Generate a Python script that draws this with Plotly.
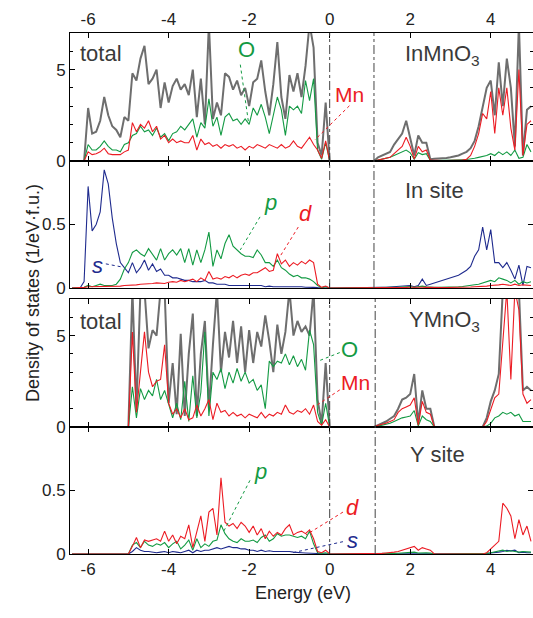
import numpy as np
import plotly.graph_objects as go

# Energy grid (eV), 0.1 eV sampling from -6.4 to 5.0
energy = np.round(np.arange(-6.4, 5.0001, 0.1), 2)

# ---------------- InMnO3: total / O / Mn (1/eV f.u.) ----------------
inmno3_total = [
    0, 0, 0, 0, 2.9, 1.5, 1.6, 2.2, 3.5, 2.5,          # -6.4 .. -5.5
    1.9, 1.7, 1.3, 2.4, 2.2, 4.8, 4.4, 5.6, 6.3, 4.2,  # -5.4 .. -4.5
    4.5, 5.0, 2.9, 4.3, 3.2, 4.1, 4.5, 3.9, 4.2, 3.6,  # -4.4 .. -3.5
    5.0, 2.4, 4.5, 2.0, 7.5, 2.3, 3.2, 2.5, 4.8, 4.6,  # -3.4 .. -2.5
    3.9, 4.4, 3.6, 4.0, 3.0, 4.3, 4.5, 5.5, 3.8, 2.5,  # -2.4 .. -1.5
    4.2, 6.5, 3.5, 2.3, 4.7, 3.8, 4.8, 3.5, 5.2, 7.5,  # -1.4 .. -0.5
    6.2, 1.0, 0.3, 3.2, 0, 0, 0, 0, 0, 0,              # -0.4 .. 0.5
    0, 0, 0, 0, 0, 0, 0.2, 0.3, 0.4, 0.5,              # 0.6 .. 1.5
    0.9, 1.2, 1.5, 2.2, 1.3, 0.3, 1.4, 1.0, 1.0, 0.1,  # 1.6 .. 2.5
    0.12, 0.12, 0.14, 0.16, 0.2, 0.25, 0.3, 0.4, 0.5, 0.7,  # 2.6 .. 3.5
    1.1, 1.9, 2.9, 4.0, 4.4, 2.5, 5.4, 3.0, 5.6, 4.0,  # 3.6 .. 4.5
    0.8, 7.5, 0.3, 2.8, 3.0,                           # 4.6 .. 5.0
]
inmno3_O = [
    0, 0, 0, 0, 0.9, 0.6, 0.6, 0.8, 1.1, 0.8,
    0.6, 0.6, 0.5, 0.9, 1.0, 1.4, 1.5, 1.9, 1.6, 1.7,
    1.4, 1.8, 1.3, 1.5, 1.1, 1.5, 1.6, 1.9, 1.7, 2.0,
    2.3, 1.3, 2.1, 1.8, 3.4, 1.9, 2.4, 1.4, 2.4, 2.6,
    2.2, 2.3, 2.0, 2.3, 2.0, 2.9, 2.5, 3.1, 2.4, 1.5,
    2.5, 3.5, 2.8, 1.4, 3.0, 2.8, 3.0, 2.6, 4.4, 3.3,
    4.5, 0.6, 0.1, 1.0, 0, 0, 0, 0, 0, 0,
    0, 0, 0, 0, 0, 0, 0.05, 0.1, 0.15, 0.2,
    0.3, 0.4, 0.5, 0.6, 0.45, 0.1, 0.45, 0.35, 0.4, 0.03,
    0.03, 0.03, 0.04, 0.04, 0.05, 0.05, 0.06, 0.07, 0.08, 0.1,
    0.15, 0.2, 0.25, 0.3, 0.4, 0.3, 0.5, 0.35, 0.5, 0.3,
    0.6, 0.15, 0.2, 0.9, 0.5,
]
inmno3_Mn = [
    0, 0, 0, 0, 0.5, 0.35, 0.4, 0.5, 0.7, 0.4,
    0.35, 0.35, 0.35, 0.5, 0.6, 2.1, 1.6, 2.0, 1.8, 2.2,
    1.6, 1.9, 1.2, 1.4, 1.0, 1.2, 1.0, 1.1, 1.0, 1.0,
    1.4, 0.6, 1.2, 0.9, 1.0, 0.8, 0.9, 0.7, 0.9, 0.8,
    0.9, 0.7, 0.8, 0.6, 0.8, 0.7, 0.9, 0.8, 0.7, 0.9,
    0.8, 0.7, 0.9, 0.7, 0.8, 1.1, 0.8, 0.7, 1.0, 1.3,
    0.9, 0.6, 0.15, 1.1, 0, 0, 0, 0, 0, 0,
    0, 0, 0, 0, 0, 0, 0.05, 0.1, 0.15, 0.2,
    0.4, 0.6, 0.8, 1.3, 0.8, 0.1, 0.8, 0.5, 0.6, 0.05,
    0.03, 0.03, 0.03, 0.03, 0.03, 0.04, 0.04, 0.05, 0.1, 0.3,
    0.8, 1.5, 2.6, 2.3, 3.8, 1.5, 4.0, 2.5, 4.0, 1.8,
    0.6, 5.0, 0.3, 2.0, 2.2,
]

# ---------------- In site: s / p / d ----------------
in_s = [
    0, 0, 0, 0.05, 0.8, 0.45, 0.5, 0.6, 0.93, 0.82,
    0.55, 0.35, 0.2, 0.16, 0.12, 0.2, 0.12, 0.16, 0.22, 0.14,
    0.19, 0.13, 0.15, 0.1, 0.1, 0.08, 0.08, 0.07, 0.06, 0.06,
    0.05, 0.05, 0.05, 0.06, 0.04, 0.04, 0.03, 0.03, 0.03, 0.02,
    0.02, 0.02, 0.02, 0.015, 0.02, 0.015, 0.015, 0.02, 0.01, 0.015,
    0.01, 0.01, 0.012, 0.01, 0.01, 0.01, 0.008, 0.01, 0.006, 0.008,
    0.005, 0.003, 0.002, 0.01, 0, 0, 0, 0, 0, 0,
    0, 0, 0, 0, 0, 0, 0.003, 0.005, 0.006, 0.008,
    0.01, 0.012, 0.015, 0.02, 0.02, 0.01, 0.02, 0.07, 0.02, 0.03,
    0.04, 0.05, 0.06, 0.07, 0.08, 0.09, 0.1, 0.12, 0.14, 0.17,
    0.25, 0.3, 0.48, 0.3, 0.46, 0.2, 0.2, 0.16, 0.2, 0.14,
    0.07, 0.18, 0.02, 0.17, 0.16,
]
in_p = [
    0, 0, 0, 0.005, 0.02, 0.01, 0.02, 0.03, 0.02, 0.02,
    0.02, 0.03, 0.07, 0.15, 0.2, 0.28, 0.3, 0.27, 0.25, 0.31,
    0.26, 0.22, 0.31, 0.22, 0.27, 0.3, 0.26, 0.31, 0.2, 0.31,
    0.18, 0.3, 0.2, 0.3, 0.44, 0.17, 0.3, 0.23, 0.35, 0.42,
    0.33, 0.3, 0.27, 0.25, 0.25, 0.24, 0.3, 0.26, 0.2, 0.2,
    0.17, 0.22, 0.16, 0.14, 0.11, 0.09, 0.1, 0.08, 0.08, 0.07,
    0.05, 0.02, 0.003, 0.01, 0, 0, 0, 0, 0, 0,
    0, 0, 0, 0, 0, 0, 0.002, 0.003, 0.004, 0.005,
    0.005, 0.006, 0.008, 0.01, 0.012, 0.005, 0.01, 0.015, 0.01, 0.005,
    0.005, 0.005, 0.005, 0.006, 0.007, 0.008, 0.01, 0.012, 0.015, 0.02,
    0.025, 0.03, 0.04, 0.05, 0.06, 0.05, 0.08, 0.07, 0.06, 0.04,
    0.06, 0.03, 0.05, 0.04, 0.05,
]
in_d = [
    0, 0, 0, 0.005, 0.01, 0.01, 0.01, 0.01, 0.01, 0.01,
    0.01, 0.01, 0.015, 0.02, 0.02, 0.02, 0.025, 0.03, 0.03, 0.03,
    0.035, 0.04, 0.04, 0.035, 0.045, 0.05, 0.045, 0.06, 0.05, 0.06,
    0.07, 0.05, 0.08, 0.06, 0.13, 0.07, 0.08, 0.07, 0.09, 0.08,
    0.1, 0.08, 0.1, 0.11, 0.1, 0.12, 0.12, 0.14, 0.16, 0.13,
    0.14, 0.27, 0.19, 0.22, 0.17, 0.2, 0.18, 0.21, 0.19, 0.22,
    0.2, 0.03, 0.005, 0.015, 0, 0, 0, 0, 0, 0,
    0, 0, 0, 0, 0, 0, 0.002, 0.002, 0.003, 0.003,
    0.003, 0.004, 0.005, 0.005, 0.006, 0.004, 0.005, 0.006, 0.005, 0.003,
    0.003, 0.003, 0.003, 0.004, 0.004, 0.005, 0.005, 0.006, 0.007, 0.008,
    0.01, 0.01, 0.012, 0.015, 0.02, 0.02, 0.025, 0.03, 0.025, 0.02,
    0.03, 0.02, 0.025, 0.02, 0.02,
]

# ---------------- YMnO3: total / O / Mn ----------------
ymno3_total = [
    0, 0, 0, 0, 0, 0, 0, 0, 0, 0,
    0, 0, 0, 0, 0, 7.5, 1.0, 7.5, 7.5, 4.3,
    5.3, 5.0, 7.5, 7.5, 1.3, 3.5, 0.7, 5.1, 0.6, 4.0,
    6.2, 0.6, 4.0, 5.8, 1.0, 4.5, 7.5, 3.0, 5.2, 3.8,
    5.8, 3.5, 5.5, 3.0, 5.3, 3.5, 5.2, 4.4, 6.1, 4.7,
    3.0, 5.6, 4.0, 5.2, 7.5, 5.0, 5.8, 5.2, 5.5, 5.0,
    7.5, 1.5, 0.2, 3.5, 0, 0, 0, 0, 0, 0,
    0, 0, 0, 0, 0, 0, 0.1, 0.2, 0.3, 0.45,
    0.6, 1.0, 1.5, 1.6, 1.8, 2.9, 0.2, 2.0, 1.0, 1.0,
    0, 0, 0, 0, 0, 0, 0, 0, 0, 0,
    0, 0, 0, 0.5, 1.4, 2.0, 2.9, 7.5, 7.5, 7.5,
    7.5, 7.5, 2.0, 2.2, 2.0,
]
ymno3_O = [
    0, 0, 0, 0, 0, 0, 0, 0, 0, 0,
    0, 0, 0, 0, 0, 2.2, 0.5, 2.1, 1.5, 2.0,
    1.7, 2.6, 1.5, 2.0, 1.2, 0.5, 1.3, 0.4, 2.5, 0.3,
    2.8, 0.5, 1.9, 5.2, 0.6, 3.0, 2.6, 3.2, 2.1, 3.0,
    2.4, 3.2, 2.5, 3.0, 2.4, 2.6, 2.0, 2.3, 1.0, 3.6,
    3.3, 3.6, 3.5, 4.0, 3.4, 3.9, 3.3, 3.7, 3.1, 5.3,
    4.5, 0.8, 0.1, 1.3, 0, 0, 0, 0, 0, 0,
    0, 0, 0, 0, 0, 0, 0.05, 0.1, 0.15, 0.2,
    0.3, 0.4, 0.5, 0.55, 0.6, 0.9, 0.05, 0.6, 0.4, 0.3,
    0, 0, 0, 0, 0, 0, 0, 0, 0, 0,
    0, 0, 0, 0.05, 0.2, 0.5, 0.6, 0.8, 0.7, 0.8,
    0.6, 0.7, 0.3, 0.3, 0.3,
]
ymno3_Mn = [
    0, 0, 0, 0, 0, 0, 0, 0, 0, 0,
    0, 0, 0, 0, 0, 5.2, 0.8, 3.0, 5.2, 3.0,
    2.2, 2.5, 2.6, 4.5, 1.3, 0.7, 1.0, 0.5, 1.0, 0.4,
    0.5, 1.2, 0.6, 1.0, 1.5, 0.4, 1.3, 0.8, 0.9, 0.6,
    0.8, 0.6, 0.7, 0.5, 0.7, 0.6, 0.5, 0.8, 0.5, 0.7,
    0.6, 0.8, 0.7, 1.2, 0.8, 0.7, 0.9, 0.8, 1.0, 0.7,
    1.2, 0.3, 0.1, 0.4, 0, 0, 0, 0, 0, 0,
    0, 0, 0, 0, 0, 0, 0.1, 0.15, 0.2, 0.3,
    0.4, 0.8, 1.0, 1.1, 1.2, 1.6, 0.1, 1.4, 0.8, 0.7,
    0, 0, 0, 0, 0, 0, 0, 0, 0, 0,
    0, 0, 0, 0.3, 1.0, 1.6, 1.8, 4.5, 7.5, 2.6,
    7.5, 6.4, 1.8, 1.3, 1.5,
]

# ---------------- Y site: s / p / d ----------------
y_s = [
    0, 0, 0, 0, 0, 0, 0, 0, 0, 0,
    0, 0, 0, 0, 0, 0.02, 0.05, 0.03, 0.02, 0.02,
    0.015, 0.01, 0.015, 0.02, 0.01, 0.02, 0.015, 0.01, 0.02, 0.03,
    0.01, 0.03, 0.02, 0.03, 0.03, 0.04, 0.05, 0.04, 0.05, 0.06,
    0.05, 0.05, 0.04, 0.04, 0.03, 0.03, 0.02, 0.03, 0.02, 0.025,
    0.02, 0.02, 0.025, 0.02, 0.02, 0.015, 0.01, 0.01, 0.008, 0.006,
    0.004, 0.002, 0, 0, 0, 0, 0, 0, 0, 0,
    0, 0, 0, 0, 0, 0, 0, 0, 0, 0,
    0, 0, 0.002, 0.003, 0.004, 0.005, 0.003, 0.004, 0.003, 0.002,
    0, 0, 0, 0, 0, 0, 0, 0, 0, 0,
    0, 0, 0, 0.003, 0.008, 0.01, 0.015, 0.02, 0.03, 0.025,
    0.03, 0.01, 0.015, 0.01, 0.01,
]
y_p = [
    0, 0, 0, 0, 0, 0, 0, 0, 0, 0,
    0, 0, 0, 0, 0, 0.07, 0.09, 0.05, 0.1, 0.07,
    0.06, 0.08, 0.07, 0.09, 0.05, 0.08, 0.1, 0.04, 0.07, 0.11,
    0.03, 0.12, 0.05, 0.08, 0.06, 0.1, 0.11, 0.23, 0.16, 0.12,
    0.1, 0.09, 0.12, 0.1, 0.1, 0.11, 0.09, 0.13, 0.15, 0.1,
    0.12, 0.16, 0.14, 0.15, 0.15, 0.14, 0.13, 0.14, 0.12, 0.18,
    0.08, 0.01, 0.005, 0.01, 0, 0, 0, 0, 0, 0,
    0, 0, 0, 0, 0, 0, 0.001, 0.002, 0.003, 0.004,
    0.005, 0.006, 0.008, 0.01, 0.012, 0.015, 0.008, 0.012, 0.01, 0.008,
    0, 0, 0, 0, 0, 0, 0, 0, 0, 0,
    0, 0, 0, 0.005, 0.01, 0.015, 0.02, 0.03, 0.02, 0.025,
    0.02, 0.015, 0.02, 0.015, 0.015,
]
y_d = [
    0, 0, 0, 0, 0, 0, 0, 0, 0, 0,
    0, 0, 0, 0, 0, 0.06, 0.13, 0.05, 0.11, 0.1,
    0.11, 0.12, 0.1, 0.18, 0.1, 0.15, 0.08, 0.14, 0.12, 0.23,
    0.05, 0.18, 0.3, 0.1, 0.33, 0.36, 0.15, 0.6, 0.25, 0.22,
    0.24, 0.2, 0.25, 0.22, 0.17, 0.22, 0.15, 0.2, 0.12, 0.18,
    0.14, 0.17, 0.15, 0.2, 0.23, 0.15, 0.17, 0.18, 0.16, 0.19,
    0.12, 0.02, 0.01, 0.03, 0, 0, 0, 0, 0, 0,
    0, 0, 0, 0, 0, 0, 0.003, 0.005, 0.008, 0.01,
    0.015, 0.02, 0.03, 0.04, 0.05, 0.06, 0.03, 0.05, 0.04, 0.03,
    0, 0, 0, 0, 0, 0, 0, 0, 0, 0,
    0, 0, 0, 0.01, 0.04, 0.07, 0.1, 0.4, 0.36, 0.3,
    0.12, 0.27, 0.15, 0.22, 0.1,
]

for name, arr in [("inmno3_total", inmno3_total), ("inmno3_O", inmno3_O), ("inmno3_Mn", inmno3_Mn),
                  ("in_s", in_s), ("in_p", in_p), ("in_d", in_d),
                  ("ymno3_total", ymno3_total), ("ymno3_O", ymno3_O), ("ymno3_Mn", ymno3_Mn),
                  ("y_s", y_s), ("y_p", y_p), ("y_d", y_d)]:
    assert len(arr) == len(energy), (name, len(arr))

# Gap edges (conduction band onset) for the two compounds
gap_inmno3 = 1.1
gap_ymno3 = 1.13

x_ticks = [-6, -4, -2, 0, 2, 4]
x_ticktext = ["-6", "-4", "-2", "0", "2", "4"]

GREY = "#6e6e6e"
GREEN = "#139a43"
RED = "#ec1c24"
BLUE = "#1f2b8e"
TXT = "#3a3a3a"
FONT = "Liberation Sans"

W, H = 533, 618
def fy(p):
    return 1 - p / H

dom_x = [70 / W, 1.0]
dom = {
    1: [fy(161), fy(33)],
    2: [fy(288), fy(161)],
    3: [fy(427), fy(299)],
    4: [fy(554), fy(427)],
}

fig = go.Figure()

def add(ax, y, color, width):
    xa = "x" if ax == 1 else f"x{ax}"
    ya = "y" if ax == 1 else f"y{ax}"
    fig.add_trace(go.Scatter(x=energy, y=y, mode="lines", xaxis=xa, yaxis=ya,
                             line=dict(color=color, width=width), showlegend=False,
                             hoverinfo="skip"))

add(1, inmno3_total, GREY, 2.0)
add(1, inmno3_O, GREEN, 1.1)
add(1, inmno3_Mn, RED, 1.1)
add(2, in_s, BLUE, 1.1)
add(2, in_p, GREEN, 1.1)
add(2, in_d, RED, 1.1)
add(3, ymno3_total, GREY, 2.0)
add(3, ymno3_O, GREEN, 1.1)
add(3, ymno3_Mn, RED, 1.1)
add(4, y_s, BLUE, 1.1)
add(4, y_p, GREEN, 1.1)
add(4, y_d, RED, 1.1)

common = dict(showline=True, linecolor="black", linewidth=1, mirror="allticks",
              ticks="inside", ticklen=5, tickcolor="black", tickwidth=1,
              zeroline=False, showgrid=False, automargin=False,
              tickfont=dict(family=FONT, size=17, color="#222"))

layout = dict(width=W, height=H, margin=dict(l=0, r=0, t=0, b=0),
              paper_bgcolor="white", plot_bgcolor="white", showlegend=False,
              font=dict(family=FONT))

for i in range(1, 5):
    xk = "xaxis" if i == 1 else f"xaxis{i}"
    yk = "yaxis" if i == 1 else f"yaxis{i}"
    ya = "y" if i == 1 else f"y{i}"
    xa = "x" if i == 1 else f"x{i}"
    xd = dict(common, domain=dom_x, anchor=ya, range=[-6.45, 5.05],
              tickvals=x_ticks, ticktext=x_ticktext,
              showticklabels=(i in (1, 4)), side=("top" if i == 1 else "bottom"))
    if i != 1:
        xd["matches"] = "x"
    layout[xk] = xd
    if i in (1, 3):
        yd = dict(common, domain=dom[i], anchor=xa, range=[0, 7],
                  tickvals=[0, 5], ticktext=["0", "5"],
                  minor=dict(tickvals=[1, 2, 3, 4, 6], ticks="inside", ticklen=3,
                             tickcolor="black", showgrid=False))
    else:
        yd = dict(common, domain=dom[i], anchor=xa, range=[0, 1.0],
                  tickvals=[0, 0.5], ticktext=["0", "0.5"])
    layout[yk] = yd

fig.update_layout(**layout)

# Vertical dash-dot lines at E=0 and at the gap edge
shapes = []
for xv, (y0, y1) in [(0, (dom[2][0], dom[1][1])), (gap_inmno3, (dom[2][0], dom[1][1])),
                     (0, (dom[4][0], dom[3][1])), (gap_ymno3, (dom[4][0], dom[3][1]))]:
    shapes.append(dict(type="line", xref="x", yref="paper", x0=xv, x1=xv, y0=y0, y1=y1,
                       line=dict(color="#444", width=1, dash="dashdot")))

# Leader lines (axis, x0, y0, x1, y1, color)
leaders = [
    (1, -2.22, 5.27, -2.02, 2.16, GREEN),
    (1, 0.49, 3.02, -0.37, 1.15, RED),
    (2, -1.73, 0.56, -2.22, 0.30, GREEN),
    (2, -0.78, 0.48, -1.23, 0.25, RED),
    (2, -5.56, 0.19, -5.15, 0.165, BLUE),
    (3, 0.25, 4.07, -0.29, 3.6, GREEN),
    (3, 0.25, 2.03, -0.37, 1.12, RED),
    (4, -1.98, 0.58, -2.63, 0.18, GREEN),
    (4, 0.33, 0.33, -0.59, 0.15, RED),
    (4, 0.33, 0.097, -0.95, 0.008, BLUE),
]
for ax, x0, y0, x1, y1, c in leaders:
    xa = "x" if ax == 1 else f"x{ax}"
    ya = "y" if ax == 1 else f"y{ax}"
    shapes.append(dict(type="line", xref=xa, yref=ya, x0=x0, y0=y0, x1=x1, y1=y1,
                       line=dict(color=c, width=1, dash="dot")))
fig.update_layout(shapes=shapes)

# Labels (axis, x, y, text, color, size)
labels = [
    (1, -5.67, 5.88, "total", TXT, 22),
    (1, 2.8, 5.77, "InMnO<sub>3</sub>", TXT, 22),
    (1, -2.06, 6.1, "O", GREEN, 22),
    (1, 0.5, 3.63, "Mn", RED, 21),
    (2, 2.6, 0.77, "In site", TXT, 22),
    (2, -1.47, 0.67, "<i>p</i>", GREEN, 22),
    (2, -0.61, 0.59, "<i>d</i>", RED, 22),
    (2, -5.77, 0.18, "<i>s</i>", BLUE, 22),
    (3, -5.67, 5.77, "total", TXT, 22),
    (3, 2.85, 5.77, "YMnO<sub>3</sub>", TXT, 22),
    (3, 0.5, 4.23, "O", GREEN, 22),
    (3, 0.65, 2.42, "Mn", RED, 21),
    (4, 2.67, 0.78, "Y site", TXT, 22),
    (4, -1.72, 0.65, "<i>p</i>", GREEN, 22),
    (4, 0.57, 0.37, "<i>d</i>", RED, 22),
    (4, 0.57, 0.11, "<i>s</i>", BLUE, 22),
]
ann = []
for ax, x, y, t, c, s in labels:
    xa = "x" if ax == 1 else f"x{ax}"
    ya = "y" if ax == 1 else f"y{ax}"
    ann.append(dict(xref=xa, yref=ya, x=x, y=y, text=t, showarrow=False,
                    font=dict(family=FONT, size=s, color=c)))

ann.append(dict(xref="paper", yref="paper", x=303 / W, y=fy(605), text="Energy (eV)",
                showarrow=False, font=dict(family=FONT, size=18, color="#222")))
ann.append(dict(xref="paper", yref="paper", x=21 / W, y=fy(293),
                text="Density of states (1/eV·f.u.)", textangle=-90,
                showarrow=False, font=dict(family=FONT, size=18, color="#222")))
fig.update_layout(annotations=ann)

fig.write_html("out.html")
